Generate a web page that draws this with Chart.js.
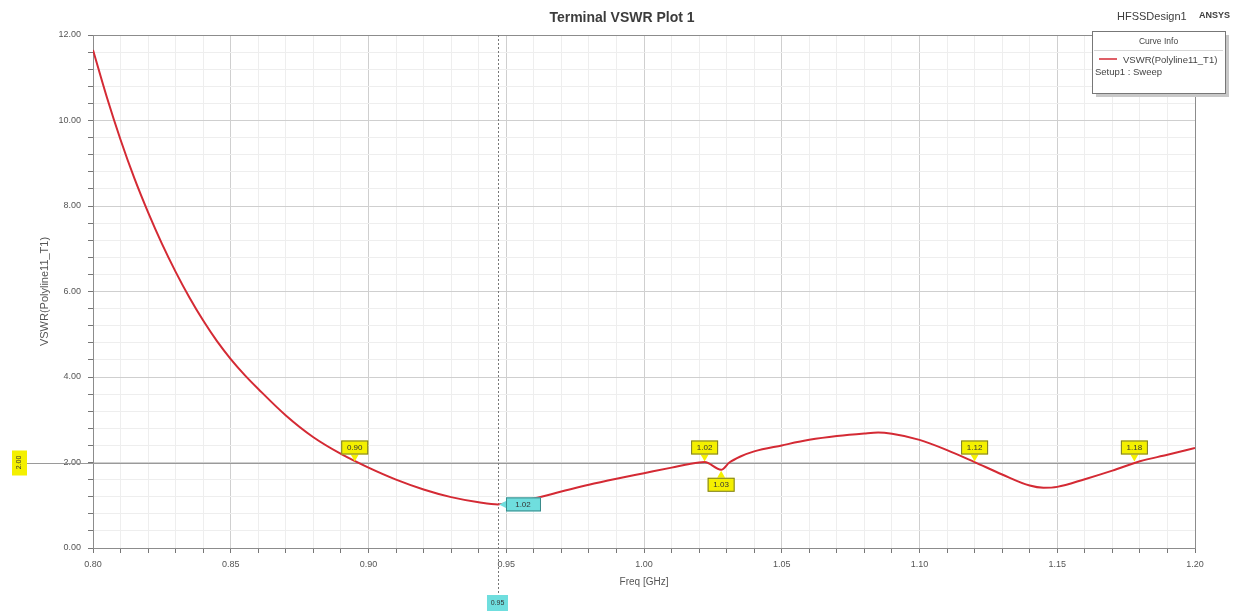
<!DOCTYPE html>
<html>
<head>
<meta charset="utf-8">
<script src="https://cdn.jsdelivr.net/npm/chart.js@4"></script>
<style>
  html, body { margin: 0; padding: 0; background: #fff; }
  #wrap { width: 1239px; height: 611px; }
</style>
</head>
<body>
<div id="wrap"><canvas id="vswrChart" width="1239" height="611"></canvas></div>
<script>
// sweep readings (freq in GHz, VSWR)
const freqGHz = [0.800, 0.805, 0.810, 0.815, 0.820, 0.825, 0.830, 0.835, 0.840, 0.845,
                 0.850, 0.855, 0.860, 0.870, 0.880, 0.890, 0.900, 0.910, 0.920, 0.930,
                 0.940, 0.947, 0.950, 0.960, 0.970, 0.980, 0.990, 1.000, 1.010, 1.020,
                 1.022, 1.028, 1.031, 1.035, 1.040, 1.050, 1.060, 1.070, 1.080, 1.085,
                 1.090, 1.100, 1.110, 1.120, 1.130, 1.140, 1.145, 1.150, 1.160, 1.170,
                 1.180, 1.190, 1.200];
const vswr = [11.65, 10.55, 9.55, 8.65, 7.85, 7.12, 6.46, 5.86, 5.32, 4.84,
              4.42, 4.05, 3.72, 3.10, 2.59, 2.20, 1.88, 1.60, 1.37, 1.19,
              1.07, 1.02, 1.05, 1.16, 1.32, 1.48, 1.62, 1.75, 1.88, 2.00,
              2.01, 1.83, 2.00, 2.14, 2.26, 2.40, 2.53, 2.62, 2.68, 2.70,
              2.67, 2.53, 2.29, 2.01, 1.72, 1.46, 1.41, 1.43, 1.61, 1.81,
              2.03, 2.18, 2.34];

const xTickLabels = ['0.80', '0.85', '0.90', '0.95', '1.00', '1.05', '1.10', '1.15', '1.20'];
const yTickLabels = ['0.00', '2.00', '4.00', '6.00', '8.00', '10.00', '12.00'];

// marker callouts
const markerFreq = [0.895, 1.022, 1.028, 1.120, 1.178];
const markerVswr = [2.00, 2.00, 1.83, 2.00, 2.00];
const markerText = ['0.90', '1.02', '1.03', '1.12', '1.18'];
const markerBelow = [false, false, true, false, false];
const minMarker = { freq: 0.947, vswr: 1.02, text: '1.02', xText: '0.95' };
const yMarker = { vswr: 2.00, text: '2.00' };

const sans = '"Liberation Sans", Arial, sans-serif';
const isMajor = (v, step) => Math.abs(v / step - Math.round(v / step)) < 1e-6;

function callout(ctx, px, py, text, below, fill) {
  const w = 27, h = 14;
  const by = below ? py + 8 : py - 8 - h;
  ctx.save();
  ctx.fillStyle = fill;
  ctx.strokeStyle = '#7a7a30';
  ctx.lineWidth = 1;
  ctx.beginPath();
  if (below) {
    ctx.moveTo(px, py + 1);
    ctx.lineTo(px - 4, by);
    ctx.lineTo(px + 4, by);
  } else {
    ctx.moveTo(px, py - 1);
    ctx.lineTo(px - 4, by + h);
    ctx.lineTo(px + 4, by + h);
  }
  ctx.closePath();
  ctx.fill();
  ctx.fillRect(px - w / 2, by, w, h);
  ctx.strokeRect(px - w / 2 + 0.5, by + 0.5, w - 1, h - 1);
  ctx.fillStyle = '#333';
  ctx.font = '8px ' + sans;
  ctx.textAlign = 'center';
  ctx.textBaseline = 'middle';
  ctx.fillText(text, px, by + h / 2 + 0.5);
  ctx.restore();
}

const hfssDecor = {
  id: 'hfssDecor',
  beforeDatasetsDraw(chart) {
    const { ctx, chartArea: a, scales: { x, y } } = chart;
    ctx.save();
    // frame
    ctx.strokeStyle = '#8c8c8c';
    ctx.lineWidth = 1;
    ctx.strokeRect(a.left + 0.5, a.top + 0.5, a.right - a.left, a.bottom - a.top);
    // horizontal marker line at 2.00
    const yy = Math.round(y.getPixelForValue(yMarker.vswr)) + 0.5;
    ctx.strokeStyle = '#9a9a9a';
    ctx.beginPath();
    ctx.moveTo(27, yy);
    ctx.lineTo(a.right, yy);
    ctx.stroke();
    // vertical marker line at min
    const xx = Math.round(x.getPixelForValue(minMarker.freq)) + 0.5;
    ctx.strokeStyle = '#777';
    ctx.setLineDash([2, 2]);
    ctx.beginPath();
    ctx.moveTo(xx, a.top);
    ctx.lineTo(xx, 596);
    ctx.stroke();
    ctx.restore();
  },
  afterDatasetsDraw(chart) {
    const { ctx, scales: { x, y } } = chart;

    markerFreq.forEach((f, i) => {
      callout(ctx, x.getPixelForValue(f), y.getPixelForValue(markerVswr[i]),
              markerText[i], markerBelow[i], '#f4f000');
    });

    // min marker, label to the right
    const mx = x.getPixelForValue(minMarker.freq), my = y.getPixelForValue(minMarker.vswr);
    ctx.save();
    ctx.fillStyle = '#6fdede';
    ctx.strokeStyle = '#3a8a8a';
    ctx.beginPath();
    ctx.moveTo(mx + 1, my);
    ctx.lineTo(mx + 9, my - 4);
    ctx.lineTo(mx + 9, my + 4);
    ctx.closePath();
    ctx.fill();
    ctx.fillRect(mx + 8, my - 7, 35, 14);
    ctx.strokeRect(mx + 8.5, my - 6.5, 34, 13);
    ctx.fillStyle = '#333';
    ctx.font = '8px ' + sans;
    ctx.textAlign = 'center';
    ctx.textBaseline = 'middle';
    ctx.fillText(minMarker.text, mx + 25, my + 0.5);

    // x marker label below the axis
    ctx.fillStyle = '#6fdede';
    ctx.fillRect(mx - 11, 595, 21, 16);
    ctx.fillStyle = '#333';
    ctx.font = '7px ' + sans;
    ctx.fillText(minMarker.xText, mx - 0.5, 603);

    // y marker label, rotated
    const yy = y.getPixelForValue(yMarker.vswr);
    ctx.fillStyle = '#f4f000';
    ctx.fillRect(12, yy - 12, 15, 25);
    ctx.translate(19.5, yy);
    ctx.rotate(-Math.PI / 2);
    ctx.fillStyle = '#333';
    ctx.fillText(yMarker.text, 0, 0);
    ctx.restore();

    // title and header texts
    ctx.save();
    ctx.fillStyle = '#3c3c3c';
    ctx.textBaseline = 'middle';
    ctx.textAlign = 'center';
    ctx.font = 'bold 14px ' + sans;
    ctx.fillText('Terminal VSWR Plot 1', 622, 18);
    ctx.textAlign = 'left';
    ctx.font = '11px ' + sans;
    ctx.fillText('HFSSDesign1', 1117, 17);
    ctx.font = 'bold 9px ' + sans;
    ctx.fillText('ANSYS', 1199, 16);

    // curve info box
    const bx = 1092, by = 31, bw = 133, bh = 62;
    ctx.fillStyle = '#c8c8c8';
    ctx.fillRect(bx + 4, by + 4, bw, bh);
    ctx.fillStyle = '#fff';
    ctx.fillRect(bx, by, bw, bh);
    ctx.strokeStyle = '#777';
    ctx.lineWidth = 1;
    ctx.strokeRect(bx + 0.5, by + 0.5, bw, bh);
    ctx.strokeStyle = '#d6d6d6';
    ctx.beginPath();
    ctx.moveTo(bx + 2, by + 19.5);
    ctx.lineTo(bx + bw - 2, by + 19.5);
    ctx.stroke();
    ctx.fillStyle = '#444';
    ctx.font = '8.5px ' + sans;
    ctx.textAlign = 'center';
    ctx.fillText('Curve Info', bx + bw / 2, by + 11);
    ctx.textAlign = 'left';
    ctx.font = '9.5px ' + sans;
    ctx.strokeStyle = '#d42a34';
    ctx.lineWidth = 1.5;
    ctx.beginPath();
    ctx.moveTo(bx + 7, by + 28);
    ctx.lineTo(bx + 25, by + 28);
    ctx.stroke();
    ctx.fillText('VSWR(Polyline11_T1)', bx + 31, by + 29);
    ctx.fillText('Setup1 : Sweep', bx + 3, by + 41);
    ctx.restore();
  }
};

const vswrChart = new Chart(document.getElementById('vswrChart').getContext('2d'), {
  type: 'line',
  data: {
    datasets: [{
      label: 'VSWR(Polyline11_T1)',
      data: freqGHz.map((f, i) => ({ x: f, y: vswr[i] })),
      borderColor: '#d42a34',
      borderWidth: 2,
      pointRadius: 0,
      cubicInterpolationMode: 'monotone',
      fill: false
    }]
  },
  options: {
    responsive: false,
    animation: false,
    layout: { padding: { top: 35, right: 44, left: 0, bottom: 0 } },
    plugins: {
      legend: { display: false },
      title: { display: false },
      tooltip: { enabled: false }
    },
    scales: {
      x: {
        type: 'linear',
        min: 0.8,
        max: 1.2,
        afterFit: s => { s.height = 63; },
        ticks: {
          stepSize: 0.01,
          autoSkip: false,
          maxRotation: 0,
          padding: 6,
          color: '#555',
          font: { size: 9, family: sans },
          callback: v => {
            if (!isMajor(v, 0.05)) return '';
            return xTickLabels[Math.round((v - 0.8) / 0.05)];
          }
        },
        grid: {
          tickLength: 5,
          color: c => (c.tick && isMajor(c.tick.value, 0.05)) ? '#cfcfcf' : '#eeeeee',
          tickColor: '#777'
        },
        border: { color: '#777' },
        title: {
          display: true,
          text: 'Freq [GHz]',
          color: '#555',
          font: { size: 10, family: sans },
          padding: { top: 0, bottom: 23 }
        }
      },
      y: {
        min: 0,
        max: 12,
        afterFit: s => { s.width = 93; },
        ticks: {
          stepSize: 0.4,
          autoSkip: false,
          padding: 7,
          color: '#555',
          font: { size: 9, family: sans },
          callback: v => {
            if (!isMajor(v, 2)) return '';
            return yTickLabels[Math.round(v / 2)];
          }
        },
        grid: {
          tickLength: 5,
          color: c => (c.tick && isMajor(c.tick.value, 2)) ? '#cfcfcf' : '#eeeeee',
          tickColor: '#777'
        },
        border: { color: '#777' },
        title: {
          display: true,
          text: 'VSWR(Polyline11_T1)',
          color: '#555',
          font: { size: 11, family: sans },
          padding: { top: 38, bottom: 0 }
        }
      }
    }
  },
  plugins: [hfssDecor]
});
</script>
</body>
</html>
